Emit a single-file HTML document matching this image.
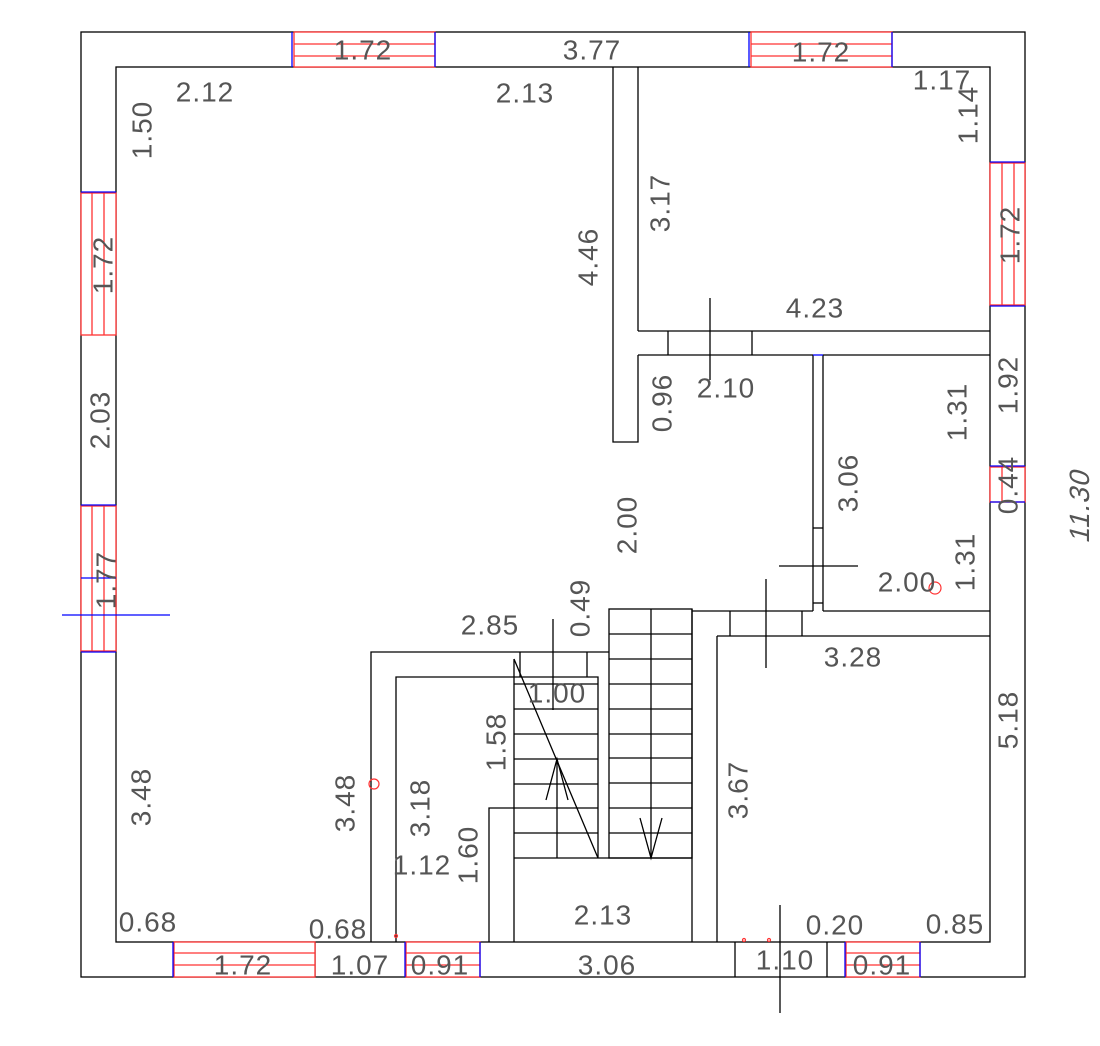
<!DOCTYPE html>
<html><head><meta charset="utf-8"><style>
html,body{margin:0;padding:0;background:#fff;width:1100px;height:1046px;overflow:hidden}
svg{display:block}
text{font-family:"Liberation Sans",sans-serif;font-size:28px;fill:#555;text-anchor:middle;dominant-baseline:central;letter-spacing:1px}
</style></head><body>
<svg width="1100" height="1046" viewBox="0 0 1100 1046" xmlns="http://www.w3.org/2000/svg">
<g fill="none" stroke="#000" stroke-width="1.3">
<rect x="81" y="32" width="944" height="945"/>
<rect x="116" y="67" width="874" height="875"/>
<!-- interior walls -->
<polyline points="613,67 613,442 638,442 638,355"/>
<line x1="638" y1="67" x2="638" y2="331"/>
<line x1="638" y1="331" x2="990" y2="331"/>
<line x1="638" y1="355" x2="813" y2="355"/>
<line x1="823" y1="355" x2="990" y2="355"/>
<line x1="668" y1="331" x2="668" y2="355"/>
<line x1="752" y1="331" x2="752" y2="355"/>
<line x1="813" y1="355" x2="813" y2="611"/>
<line x1="823" y1="355" x2="823" y2="611"/>
<line x1="813" y1="528" x2="823" y2="528"/>
<line x1="813" y1="603" x2="823" y2="603"/>
<line x1="692" y1="611" x2="813" y2="611"/>
<line x1="823" y1="611" x2="990" y2="611"/>
<line x1="717" y1="636" x2="990" y2="636"/>
<line x1="730" y1="611" x2="730" y2="636"/>
<line x1="802" y1="611" x2="802" y2="636"/>
<line x1="692" y1="609" x2="692" y2="942"/>
<line x1="717" y1="636" x2="717" y2="942"/>
<!-- right stair flight -->
<rect x="609" y="609" width="83" height="249"/>
<line x1="651" y1="609" x2="651" y2="858"/>
<path d="M609 634H692M609 659H692M609 684H692M609 709H692M609 734H692M609 758H692M609 783H692M609 808H692M609 833H692"/>
<!-- left stair enclosure -->
<polyline points="371,942 371,652 609,652"/>
<polyline points="396,942 396,677 598,677 598,858"/>
<line x1="520" y1="652" x2="520" y2="677"/>
<line x1="587" y1="652" x2="587" y2="677"/>
<line x1="514" y1="659" x2="514" y2="942"/>
<path d="M514 684H598M514 709H598M514 734H598M514 759H598M514 784H598M514 808H598M514 833H598"/>
<line x1="557" y1="759" x2="557" y2="858"/>
<line x1="514" y1="858" x2="692" y2="858"/>
<polyline points="489,942 489,808 514,808"/>
<line x1="514" y1="659" x2="598" y2="858"/>
<polyline points="546,800 557,759 568,800"/>
<polyline points="640,818 651,858 662,818"/>
<!-- bottom wall segments -->
<line x1="315" y1="942" x2="315" y2="977"/>
<line x1="735" y1="942" x2="735" y2="977"/>
<line x1="827" y1="942" x2="827" y2="977"/>
<!-- crosshair lines -->
<line x1="553" y1="619" x2="553" y2="710"/>
<line x1="710" y1="298" x2="710" y2="380"/>
<line x1="779" y1="566" x2="858" y2="566"/>
<line x1="766" y1="579" x2="766" y2="668"/>
<line x1="780" y1="905" x2="780" y2="1013"/>
</g>
<!-- windows -->
<g fill="#fff" stroke="#f33" stroke-width="1.3">
<rect x="294" y="32" width="141" height="35"/><path d="M294 44H435M294 56H435" fill="none"/>
<rect x="751" y="32" width="141" height="35"/><path d="M751 44H892M751 56H892" fill="none"/>
<rect x="81" y="193" width="35" height="142"/><path d="M92 193V335M104 193V335" fill="none"/>
<rect x="81" y="506" width="35" height="145"/><path d="M92 506V651M104 506V651" fill="none"/>
<rect x="990" y="163" width="35" height="142"/><path d="M1002 163V305M1014 163V305" fill="none"/>
<rect x="990" y="467" width="35" height="35"/><path d="M1002 467V502" fill="none"/>
<rect x="174" y="942" width="141" height="35"/><path d="M174 953H315M174 965H315" fill="none"/>
<rect x="406" y="942" width="74" height="35"/><path d="M406 953H480M406 965H480" fill="none"/>
<rect x="846" y="942" width="74" height="35"/><path d="M846 953H920M846 965H920" fill="none"/>
</g>
<g stroke="#00f" stroke-width="1.3" fill="none">
<path d="M292 32V67M435 32V67M749 32V67M892 32V67"/>
<path d="M81 192H116M81 505H116M81 652H116M81 578H116M62 615H170"/>
<path d="M990 162H1025M990 306H1025M990 466H1025M990 502H1025"/>
<path d="M173 942V977M405 942V977M480 942V977M845 942V977M920 942V977"/>
<path d="M813 355H823"/>
</g>
<g stroke="#f33" fill="none" stroke-width="1.2">
<circle cx="374" cy="784" r="5"/><circle cx="935" cy="588" r="6"/>
<circle cx="396" cy="936" r="1.5"/><circle cx="744" cy="940" r="1.5"/><circle cx="769" cy="940" r="1.5"/>
</g>
<!-- labels -->
<g>
<text x="363" y="50">1.72</text>
<text x="592" y="50">3.77</text>
<text x="821" y="52">1.72</text>
<text x="205" y="92">2.12</text>
<text x="525" y="93">2.13</text>
<text x="942" y="80">1.17</text>
<text x="815" y="308">4.23</text>
<text x="726" y="388">2.10</text>
<text x="907" y="582">2.00</text>
<text x="490" y="625">2.85</text>
<text x="853" y="657">3.28</text>
<text x="557" y="693">1.00</text>
<text x="422" y="865">1.12</text>
<text x="603" y="915">2.13</text>
<text x="148" y="922">0.68</text>
<text x="338" y="929">0.68</text>
<text x="835" y="925">0.20</text>
<text x="955" y="924">0.85</text>
<text x="243" y="965">1.72</text>
<text x="360" y="965">1.07</text>
<text x="440" y="965">0.91</text>
<text x="607" y="965">3.06</text>
<text x="785" y="960">1.10</text>
<text x="882" y="965">0.91</text>
<text transform="translate(142,130) rotate(-90)">1.50</text>
<text transform="translate(103,265) rotate(-90)">1.72</text>
<text transform="translate(100,420) rotate(-90)">2.03</text>
<text transform="translate(106,580) rotate(-90)">1.77</text>
<text transform="translate(968,115) rotate(-90)">1.14</text>
<text transform="translate(660,203) rotate(-90)">3.17</text>
<text transform="translate(588,257) rotate(-90)">4.46</text>
<text transform="translate(1010,235) rotate(-90)">1.72</text>
<text transform="translate(662,403) rotate(-90)">0.96</text>
<text transform="translate(957,412) rotate(-90)">1.31</text>
<text transform="translate(1008,385) rotate(-90)">1.92</text>
<text transform="translate(1008,485) rotate(-90)">0.44</text>
<text transform="translate(848,483) rotate(-90)">3.06</text>
<text transform="translate(627,525) rotate(-90)">2.00</text>
<text transform="translate(965,562) rotate(-90)">1.31</text>
<text transform="translate(580,608) rotate(-90)">0.49</text>
<text transform="translate(1008,720) rotate(-90)">5.18</text>
<text transform="translate(1080,505) rotate(-90) skewX(-15)">11.30</text>
<text transform="translate(496,742) rotate(-90)">1.58</text>
<text transform="translate(141,797) rotate(-90)">3.48</text>
<text transform="translate(345,803) rotate(-90)">3.48</text>
<text transform="translate(420,808) rotate(-90)">3.18</text>
<text transform="translate(738,790) rotate(-90)">3.67</text>
<text transform="translate(468,855) rotate(-90)">1.60</text>
</g>
</svg>
</body></html>
